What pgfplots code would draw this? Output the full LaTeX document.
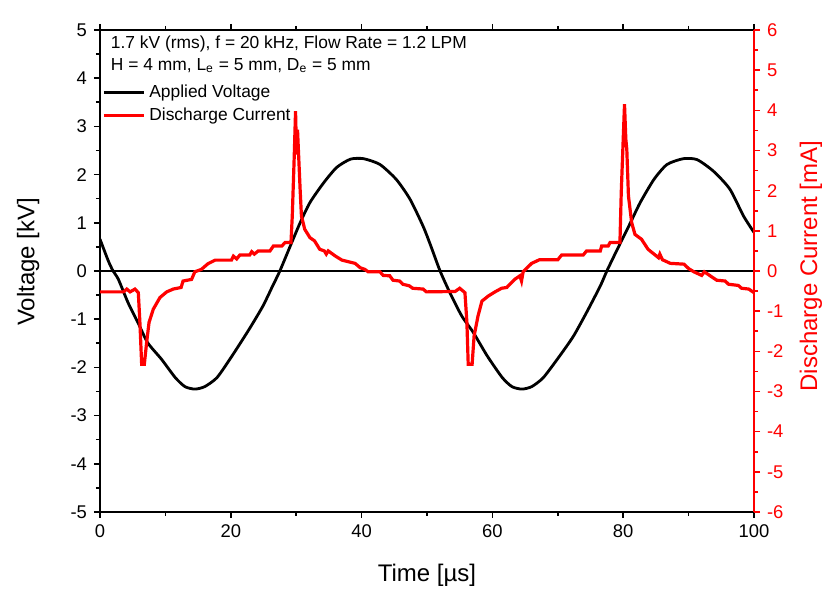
\documentclass[border=0pt]{standalone}
\usepackage{fontspec}
\setmainfont{Liberation Sans}
\usepackage{pgfplots}
\pgfplotsset{compat=1.18}

\pgfplotsset{
  scopeframe/.style={
    at={(0,0)}, anchor=south west, scale only axis,
    width=327pt, height=241pt, xmin=0, xmax=100,
    tick align=outside, major tick length=3pt, minor tick length=2pt,
    ticklabel style={font=\fontsize{9.2}{11}\selectfont},
    /pgf/number format/assume math mode=true,
    label style={font=\fontsize{12}{14}\selectfont},
  },
}

\begin{document}
\begin{tikzpicture}
% voltage axis (left)
\begin{axis}[scopeframe,
  ymin=-5, ymax=5,
  xtick={0,20,...,100}, minor xtick={10,30,...,90},
  ytick={-5,...,5}, minor ytick={-4.5,-3.5,...,4.5},
  xtick pos=both, ytick pos=left,
  axis line style={line width=1pt}, tick style={black, line width=0.8pt},
  xlabel={Time [µs]}, ylabel={Voltage [kV]},
  xlabel style={at={(axis description cs:0.5,-0.131)}, anchor=center},
  ylabel style={at={(axis description cs:-0.110,0.519)}, anchor=center},
  legend style={at={(axis description cs:0.003,0.896)}, anchor=north west,
    draw=none, fill=none, inner sep=0pt, row sep=0pt,
    font=\fontsize{8.7}{10}\selectfont},
  legend cell align=left,
  legend image code/.code={\draw[#1, line width=1.5pt] (0pt,0pt) -- (20pt,0pt);},
]
\addplot[black, line width=1.3pt, forget plot] coordinates {(0,0) (100,0)};
\addplot[black, line width=1.4pt, smooth, tension=0.4] coordinates {
(0,0.66) (1.27,0.21) (2,0) (2.8,-0.17) (4.3,-0.66) (5.8,-1.07) (7.3,-1.49)
(9.4,-1.83) (11.5,-2.21) (13,-2.40) (14.5,-2.45) (16,-2.40) (17.9,-2.21)
(20.2,-1.76) (22.8,-1.21) (24.9,-0.73) (26.4,-0.31) (27.5,0) (29.1,0.52)
(30.6,1.0) (32.1,1.42) (34.2,1.83) (36.2,2.15) (38.3,2.32) (40.3,2.33)
(42.8,2.21) (45.3,1.9) (47.4,1.49) (49.4,0.93) (50.5,0.55) (52,0)
(53.5,-0.45) (55.3,-0.93) (57.1,-1.28) (59.2,-1.76) (61.5,-2.21) (63,-2.40)
(64.5,-2.45) (66,-2.40) (67.8,-2.21) (70.3,-1.76) (72.4,-1.35) (74.4,-0.86)
(76.5,-0.31) (77.5,0) (79.1,0.45) (81.1,1.0) (82.6,1.42) (84.7,1.9)
(86.7,2.21) (89.2,2.33) (91.3,2.31) (93.8,2.07) (96.3,1.7) (98.4,1.14) (100,0.8)};
\addlegendentry{Applied Voltage}
\addlegendimage{red}
\addlegendentry{Discharge Current}
\node[anchor=west, font=\fontsize{8.7}{10}\selectfont] at (axis description cs:0.006,0.971)
  {1.7 kV (rms), f = 20 kHz, Flow Rate = 1.2 LPM};
\node[anchor=west, font=\fontsize{8.7}{10}\selectfont] at (axis description cs:0.006,0.927)
  {H = 4 mm, L\textsubscript{e} = 5 mm, D\textsubscript{e} = 5 mm};
\end{axis}
% current axis (right)
\begin{axis}[scopeframe,
  ymin=-6, ymax=6,
  axis x line=none, axis y line*=right,
  ytick={-6,...,6}, minor ytick={-5.5,-4.5,...,5.5},
  axis line style={red, line width=1pt}, tick style={red, line width=0.8pt},
  yticklabel style={red},
  ylabel={Discharge Current [mA]},
  ylabel style={red, at={(axis description cs:1.087,0.510)}, anchor=center},
]
\addplot[red, line width=1.6pt] coordinates {
(0,-0.52) (3.6,-0.52) (4.1,-0.45) (4.6,-0.52) (5.35,-0.45) (5.86,-0.54)
(6.1,-1.28) (6.37,-2.32) (6.78,-2.32) (7.13,-1.78) (7.5,-1.28) (8.15,-0.95)
(9.17,-0.66) (10.2,-0.52) (11.2,-0.45) (12.4,-0.41) (12.7,-0.25) (14.0,-0.21)
(14.5,-0.02) (15.5,0.04) (16.5,0.18) (17.6,0.27) (20.1,0.27) (20.4,0.37)
(20.9,0.3) (21.4,0.4) (22.9,0.4) (23.2,0.48) (23.6,0.42) (24.2,0.5) (26.0,0.5)
(26.5,0.62) (27.8,0.62) (28.3,0.71) (29.2,0.71) (29.4,1.37) (29.7,2.86)
(29.9,3.98) (30.05,2.9) (30.2,3.52) (30.6,2.03) (30.8,1.37) (31.3,1.04)
(32.1,0.83) (32.8,0.75) (33.6,0.54) (34.3,0.5) (34.6,0.42) (34.9,0.5)
(36.0,0.37) (37.0,0.27) (39.0,0.19) (39.8,0.08) (40.5,0.04) (41.0,-0.02)
(42.8,-0.02) (43.3,-0.11) (44.3,-0.12) (44.8,-0.23) (45.8,-0.25) (46.3,-0.33)
(47.3,-0.37) (47.8,-0.43) (49.4,-0.45) (49.9,-0.52) (54.3,-0.51) (55.0,-0.43)
(55.8,-0.54) (56.1,-1.28) (56.3,-2.32) (56.9,-2.32) (57.2,-1.62) (57.8,-1.12)
(58.4,-0.75) (59.4,-0.62) (60.4,-0.52) (61.4,-0.43) (62.2,-0.41) (63.4,-0.21)
(64.2,-0.12) (64.45,-0.25) (64.7,-0.02) (66.0,0.19) (67.2,0.28) (70.0,0.28)
(70.6,0.4) (73.9,0.4) (74.4,0.5) (76.5,0.5) (76.7,0.62) (77.7,0.62) (78.0,0.71)
(79.5,0.71) (79.7,1.95) (80.0,3.28) (80.2,4.15) (80.4,3.28) (80.55,3.03)
(80.8,1.87) (81.3,1.2) (81.8,0.91) (82.8,0.79) (83.8,0.54) (85.4,0.33)
(85.6,0.42) (86.0,0.28) (87.2,0.19) (89.3,0.17) (90.0,0.06) (90.8,-0.02)
(92.0,-0.11) (92.4,-0.02) (93.3,-0.12) (94.3,-0.23) (95.6,-0.25) (96.1,-0.33)
(97.6,-0.36) (98.1,-0.43) (99.2,-0.45) (100,-0.54)};
\end{axis}
\pgfresetboundingbox
\path[use as bounding box] (-50pt,-42.5pt) rectangle (366.5pt,256pt);
\end{tikzpicture}
\end{document}
